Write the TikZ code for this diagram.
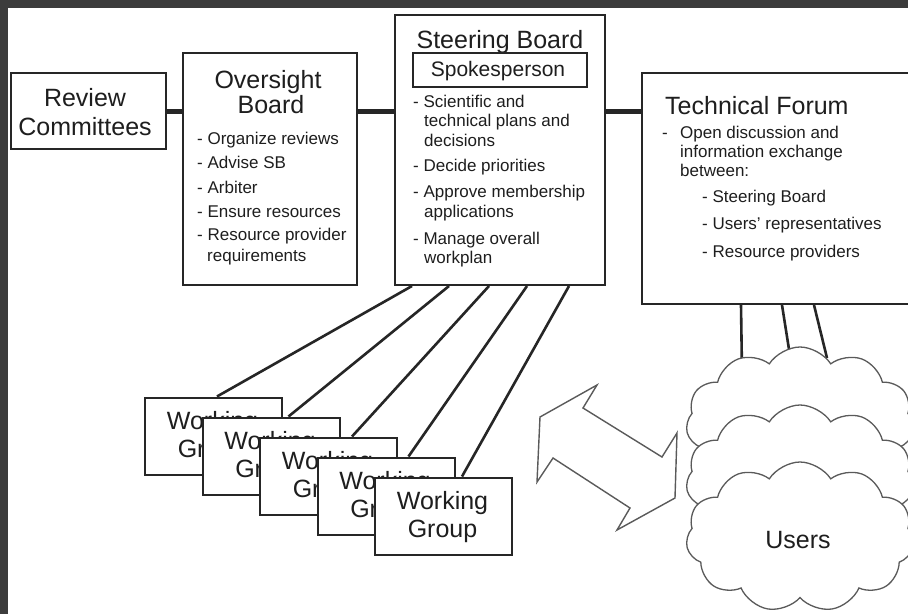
\documentclass[tikz,border=0pt]{standalone}
\usepackage{fontspec}
\setmainfont{Liberation Sans}
\usetikzlibrary{calc,shapes.symbols}
\definecolor{framec}{HTML}{3C3C3C}
\definecolor{ink}{HTML}{262626}
\definecolor{txt}{HTML}{1E1E1E}
\definecolor{cloudc}{HTML}{5A5A5A}
\newcommand{\ttlfont}{\fontsize{25}{28}\selectfont}
\newcommand{\lstfont}{\fontsize{17}{19.5}\selectfont}
\newcommand{\spkfont}{\fontsize{21}{24}\selectfont}
\begin{document}
\begin{tikzpicture}[x=1pt,y=-1pt,
 box/.style={draw=ink, line width=2pt, fill=white, inner sep=0pt},
 ttl/.style={font=\ttlfont, text=txt, inner sep=0pt, anchor=base},
 li/.style={font=\lstfont, text=txt, inner sep=0pt, anchor=base west},
 link/.style={draw=ink, line width=5pt},
 spoke/.style={draw=ink, line width=2.6pt},
 cloudbox/.style={cloud, cloud puffs=11, cloud puff arc=115, draw=cloudc, line width=1.3pt, fill=white, minimum width=228, minimum height=150, inner sep=0pt},
 arrowshape/.style={draw=cloudc, line width=1.4pt, fill=white, line join=miter},
 wgbox/.style={box, minimum width=137, minimum height=77},
]
\clip (0,0) rectangle (908,614);
\fill[white] (0,0) rectangle (908,614);
\fill[framec] (0,0) rectangle (908,8);
\fill[framec] (0,0) rectangle (8,614);

% ---------- top row boxes
\node[box, minimum width=155, minimum height=76] (rc) at (88.5,111) {};
\node[ttl] (rct1) at (85,106) {Review};
\node[ttl] (rct2) at (85,135) {Committees};

\node[box, minimum width=174, minimum height=232] (ob) at (270,169) {};
\node[ttl] (obt1) at (268,88) {Oversight};
\node[ttl] (obt2) at (271,113) {Board};
\node[li] (ob1) at (197,144) {- Organize reviews};
\node[li] (ob2) at (197,168) {- Advise SB};
\node[li] (ob3) at (197,193) {- Arbiter};
\node[li] (ob4) at (197,217) {- Ensure resources};
\node[li] (ob5) at (197,240) {- Resource provider};
\node[li] (ob6) at (207,261) {requirements};

\node[box, minimum width=210, minimum height=270] (sb) at (500,150) {};
\node[ttl] (sbt) at (500,48) {Steering Board};
\node[box, minimum width=174, minimum height=34] (sp) at (500,70) {};
\node[font=\spkfont, text=txt, inner sep=0pt, anchor=base] (spt) at (498,76) {Spokesperson};
\node[li] (sb1) at (413,107) {- Scientific and};
\node[li] (sb2) at (424,126) {technical plans and};
\node[li] (sb3) at (424,146) {decisions};
\node[li] (sb4) at (413,171) {- Decide priorities};
\node[li] (sb5) at (413,197) {- Approve membership};
\node[li] (sb6) at (424,217) {applications};
\node[li] (sb7) at (413,244) {- Manage overall};
\node[li] (sb8) at (424,263) {workplan};

\node[box, minimum width=288, minimum height=231] (tf) at (786,188.5) {};
\node[ttl, anchor=base west] (tft) at (665,114) {Technical Forum};
\node[li] (tfd) at (662,138) {-};
\node[li] (tf1) at (680,138) {Open discussion and};
\node[li] (tf2) at (680,157) {information exchange};
\node[li] (tf3) at (680,176) {between:};
\node[li] (tf4) at (702,202) {- Steering Board};
\node[li] (tf5) at (702,229) {- Users' representatives};
\node[li] (tf6) at (702,257) {- Resource providers};

% ---------- links between top boxes
\draw[link] (rc.east) -- (rc.east -| ob.west);
\draw[link] (ob.east |- rc.east) -- (sb.west |- rc.east);
\draw[link] (sb.east |- rc.east) -- (tf.west |- rc.east);

% ---------- working groups (stacked, each covering the previous)
\foreach \i/\cx/\cy in {1/213.5/436, 2/271/456, 3/328.5/476, 4/386/496, 5/443.5/516}{
  \node[wgbox] (wg\i) at (\cx,\cy) {};
  \node[ttl] (wgt\i) at ($(wg\i.north)+(-1,33)$) {Working};
  \node[ttl] (wgs\i) at ($(wg\i.north)+(-1,61)$) {Group};
}
\draw[spoke] ($(sb.south west)+(18,0)$) -- ($(wg1.north west)+(73,0)$);
\draw[spoke] ($(sb.south west)+(55,0)$) -- ($(wg2.north west)+(87,0)$);
\draw[spoke] ($(sb.south west)+(95,0)$) -- ($(wg3.north west)+(93,0)$);
\draw[spoke] ($(sb.south west)+(133,0)$) -- ($(wg4.north west)+(92,0)$);
\draw[spoke] ($(sb.south west)+(175,0)$) -- ($(wg5.north west)+(88,0)$);

% ---------- technical forum to users
\coordinate (u1) at (742,372);
\coordinate (u2) at (791,362);
\coordinate (u3) at (827,358);
\draw[spoke] ($(tf.south west)+(100,0)$) -- (u1);
\draw[spoke] ($(tf.south west)+(141,0)$) -- (u2);
\draw[spoke] ($(tf.south west)+(173,0)$) -- (u3);

\node[cloudbox] (cl1) at (800,422) {};
\node[cloudbox] (cl2) at (800,480) {};
\node[cloudbox] (cl3) at (800,537) {};
\node[ttl] (users) at (798,548) {Users};

% ---------- double arrow
\draw[arrowshape] (540,417) -- (597,385) -- (583,408) -- (662,457) -- (677,433)
  -- (675,498) -- (617,530) -- (630,508) -- (553,458) -- (537,482) -- cycle;
\end{tikzpicture}
\end{document}
